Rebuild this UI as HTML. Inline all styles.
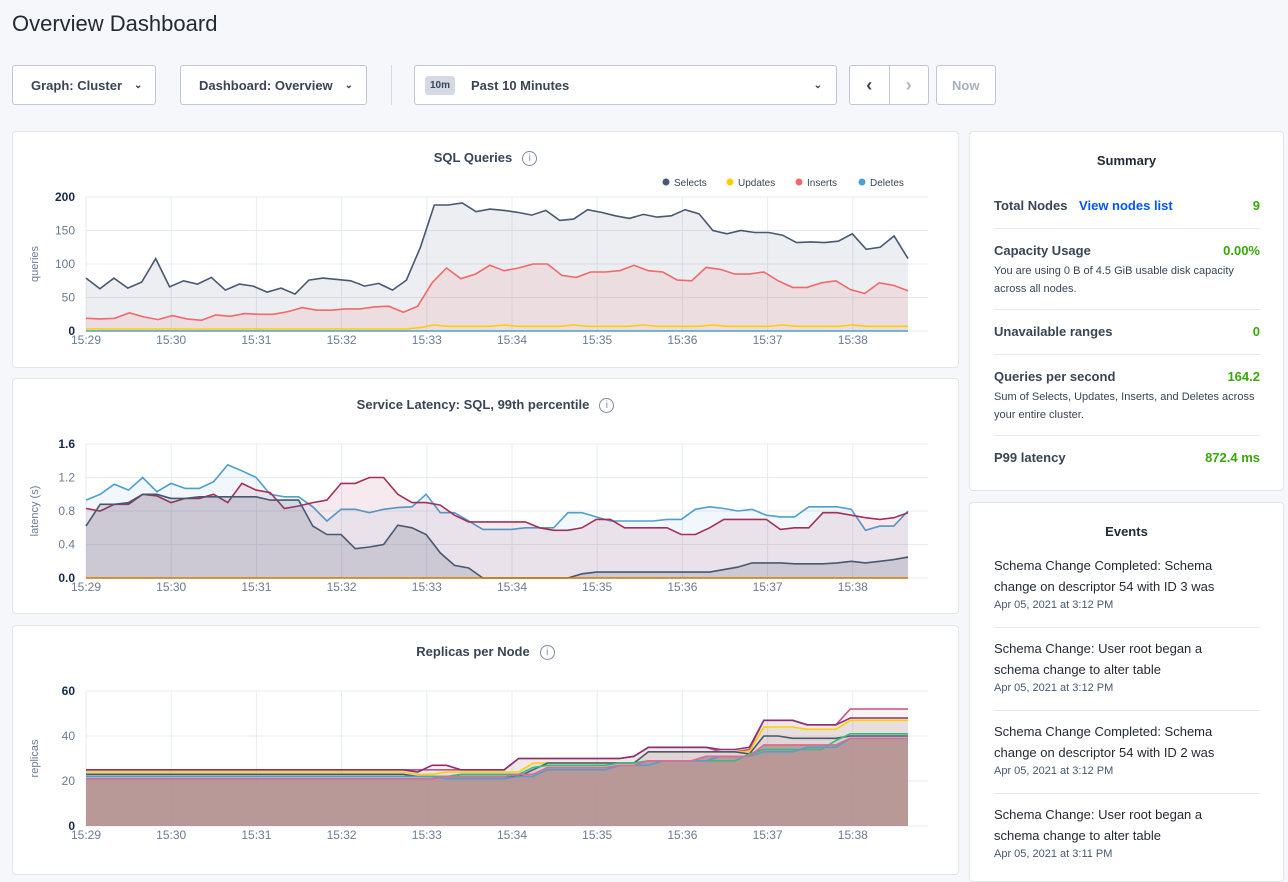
<!DOCTYPE html>
<html><head><meta charset="utf-8">
<style>
*{box-sizing:border-box}
body{margin:0;width:1288px;height:868px;overflow:hidden;background:#f5f7fa;font-family:"Liberation Sans",sans-serif;color:#242a35;position:relative}
.abs{position:absolute}
h1{position:absolute;left:12px;top:11px;margin:0;font-size:22px;font-weight:400;color:#242a35}
.btn{position:absolute;top:65px;height:40px;background:#fff;border:1px solid #c0c6d9;border-radius:3px;font-size:13px;font-weight:bold;color:#394455;display:flex;align-items:center;padding-left:18px}
.card{position:absolute;background:#fff;border:1px solid #e2e5ea;border-radius:4px}
.ct{position:absolute;width:100%;text-align:center;font-size:13px;font-weight:bold;color:#394455}
.info{display:inline-block;width:15px;height:15px;border:1px solid #7e89a9;border-radius:50%;font-size:10px;line-height:13px;text-align:center;color:#7e89a9;font-weight:normal;margin-left:10px;vertical-align:middle}
.row{position:absolute;left:24px;width:266px;font-size:13px;font-weight:bold;color:#394455}
.row .v{position:absolute;right:0;top:0;color:#37a806}
.row .d{font-weight:normal;font-size:11px;line-height:18px;margin-top:4px;color:#394455;width:275px}
.hr{position:absolute;left:24px;width:266px;border-top:1px solid #e7eaef}
.ev{position:absolute;left:24px;width:232px;font-size:13px;line-height:21px;color:#242a35}
.ev small{display:block;font-size:11px;color:#475872;line-height:16px}
svg text{font-family:"Liberation Sans",sans-serif}
</style></head><body>
<h1>Overview Dashboard</h1>
<div class="btn" style="left:12px;width:144px">Graph: Cluster <span style="margin-left:12px;font-size:10px">&#8964;</span></div>
<div class="btn" style="left:180px;width:187px">Dashboard: Overview <span style="margin-left:12px;font-size:10px">&#8964;</span></div>
<div class="abs" style="left:391px;top:65px;width:1px;height:40px;background:#d5d9e0"></div>
<div class="btn" style="left:414px;width:423px;padding-left:10px"><span style="background:#d5d9e3;border-radius:3px;font-size:10px;padding:4px 5px;margin-right:16px">10m</span>Past 10 Minutes<span style="position:absolute;right:14px;font-size:10px">&#8964;</span></div>
<div class="btn" style="left:849px;width:80px;padding:0"><span style="width:39px;text-align:center;font-size:18px">&#8249;</span><span style="width:1px;height:38px;background:#c0c6d9"></span><span style="width:39px;text-align:center;font-size:18px;color:#b0b6c4">&#8250;</span></div>
<div class="btn" style="left:936px;width:60px;padding-left:15px;color:#a8b0c0">Now</div>

<div class="card" style="left:12px;top:131px;width:947px;height:237px"><div class="ct" style="top:18px">SQL Queries<span class="info">i</span></div></div>
<div class="card" style="left:12px;top:378px;width:947px;height:236px"><div class="ct" style="top:18px">Service Latency: SQL, 99th percentile<span class="info">i</span></div></div>
<div class="card" style="left:12px;top:625px;width:947px;height:250px"><div class="ct" style="top:18px">Replicas per Node<span class="info">i</span></div></div>

<svg id="s" class="abs" style="left:0;top:0" width="960" height="868"></svg>

<div class="card" style="left:969px;top:131px;width:315px;height:360px">
<div class="ct" style="top:21px;color:#242a35">Summary</div>
<div class="row" style="top:66px">Total Nodes <span style="color:#0055ff;margin-left:8px">View nodes list</span><span class="v">9</span></div>
<div class="hr" style="top:96px"></div>
<div class="row" style="top:111px">Capacity Usage<span class="v">0.00%</span><div class="d">You are using 0 B of 4.5 GiB usable disk capacity across all nodes.</div></div>
<div class="hr" style="top:177px"></div>
<div class="row" style="top:192px">Unavailable ranges<span class="v">0</span></div>
<div class="hr" style="top:222px"></div>
<div class="row" style="top:237px">Queries per second<span class="v">164.2</span><div class="d">Sum of Selects, Updates, Inserts, and Deletes across your entire cluster.</div></div>
<div class="hr" style="top:303px"></div>
<div class="row" style="top:318px">P99 latency<span class="v">872.4 ms</span></div>
</div>

<div class="card" style="left:969px;top:502px;width:315px;height:380px">
<div class="ct" style="top:21px;color:#242a35">Events</div>
<div class="ev" style="top:52px">Schema Change Completed: Schema change on descriptor 54 with ID 3 was<small>Apr 05, 2021 at 3:12 PM</small></div>
<div class="hr" style="top:124px"></div>
<div class="ev" style="top:135px">Schema Change: User root began a schema change to alter table<small>Apr 05, 2021 at 3:12 PM</small></div>
<div class="hr" style="top:207px"></div>
<div class="ev" style="top:218px">Schema Change Completed: Schema change on descriptor 54 with ID 2 was<small>Apr 05, 2021 at 3:12 PM</small></div>
<div class="hr" style="top:290px"></div>
<div class="ev" style="top:301px">Schema Change: User root began a schema change to alter table<small>Apr 05, 2021 at 3:11 PM</small></div>
</div>

<script>
var S=document.getElementById('s'),h='';
var X0=86,X1=908;
function axis(y0,y1,ticks,labels,ylab){
  var n=ticks.length-1;
  for(var i=0;i<=n;i++){var y=y1-(y1-y0)*i/n;
    h+='<line x1="'+X0+'" x2="928" y1="'+y+'" y2="'+y+'" stroke="#e7ebf1"/>';
    var b=(i==0||i==n);
    h+='<text x="75" y="'+(y+4)+'" text-anchor="end" font-size="12" font-weight="'+(b?'bold':'normal')+'" fill="'+(b?'#152849':'#6b7a95')+'">'+labels[i]+'</text>';}
  var t=['15:29','15:30','15:31','15:32','15:33','15:34','15:35','15:36','15:37','15:38'];
  for(var k=0;k<10;k++){var x=X0+k*85.2;
    h+='<line x1="'+x+'" x2="'+x+'" y1="'+y0+'" y2="'+y1+'" stroke="#e7ebf1"/>';
    h+='<text x="'+x+'" y="'+(y1+13)+'" text-anchor="middle" font-size="12" fill="#6b7a95">'+t[k]+'</text>';}
  h+='<text transform="translate(38,'+((y0+y1)/2)+') rotate(-90)" text-anchor="middle" font-size="11" fill="#6b7a95">'+ylab+'</text>';
}
function ser(d,y0,y1,max,col,fill,op){
  var pts=[],n=d.length;
  for(var i=0;i<n;i++){pts.push((X0+(X1-X0)*i/(n-1)).toFixed(1)+','+(y1-(y1-y0)*d[i]/max).toFixed(1));}
  if(fill)h+='<polygon points="'+X0+','+y1+' '+pts.join(' ')+' '+X1+','+y1+'" fill="'+fill+'" fill-opacity="'+op+'"/>';
  h+='<polyline points="'+pts.join(' ')+'" fill="none" stroke="'+col+'" stroke-width="1.6"/>';
}
axis(197,331,[0,1,2,3,4],['0','50','100','150','200'],'queries');
var sel=[79,63,79,64,73,108,66,75,70,80,61,70,67,58,64,55,76,79,77,75,67,71,61,76,125,188,188,191,178,182,180,177,173,180,165,167,181,177,172,168,174,170,172,181,175,150,145,150,147,147,143,132,133,132,134,145,122,125,142,108];
var ins=[19,18,19,27,21,17,23,18,16,24,22,26,25,25,29,35,31,31,33,33,36,37,28,37,72,94,78,85,98,90,94,100,100,83,80,88,88,90,98,90,88,76,75,95,92,85,85,88,75,65,65,72,75,62,56,72,68,60];
var upd=sel.map(function(v,i){return i<24?3:(i<25?5:7+ (i%5==0?2:0));});
ser(sel,197,331,200,'#475872','#475872',0.1);
ser(ins,197,331,200,'#f16969','#f16969',0.12);
ser(upd,197,331,200,'#ffcd02',null,0);
ser(sel.map(function(){return 0}),197,331,200,'#4e9fd1',null,0);
var lg=[['Selects','#475872',663],['Updates','#ffcd02',727],['Inserts','#f16969',796],['Deletes','#4e9fd1',859]];
lg.forEach(function(l){h+='<circle cx="'+(l[2]+3)+'" cy="182" r="3.5" fill="'+l[1]+'"/><text x="'+(l[2]+11)+'" y="186" font-size="10" fill="#394455">'+l[0]+'</text>';});
axis(444,578,[0,1,2,3,4],['0.0','0.4','0.8','1.2','1.6'],'latency (s)');
var blu=[0.93,1.0,1.12,1.05,1.2,1.03,1.13,1.07,1.07,1.15,1.35,1.28,1.2,1.0,0.97,0.97,0.85,0.68,0.82,0.82,0.78,0.82,0.84,0.85,1.0,0.78,0.78,0.68,0.58,0.58,0.58,0.6,0.6,0.6,0.78,0.78,0.73,0.68,0.68,0.68,0.68,0.7,0.7,0.82,0.85,0.83,0.8,0.82,0.75,0.73,0.73,0.85,0.85,0.85,0.82,0.57,0.62,0.62,0.8];
var red=[0.83,0.8,0.88,0.88,1.0,0.98,0.9,0.95,0.95,1.0,0.9,1.13,1.05,1.02,0.83,0.86,0.9,0.93,1.13,1.13,1.2,1.2,1.0,0.9,0.9,0.87,0.75,0.67,0.67,0.67,0.67,0.67,0.6,0.57,0.57,0.6,0.7,0.7,0.6,0.6,0.6,0.6,0.52,0.52,0.6,0.7,0.7,0.7,0.7,0.58,0.6,0.6,0.78,0.78,0.75,0.72,0.7,0.72,0.78];
var drk=[0.62,0.88,0.88,0.9,1.0,1.0,0.95,0.95,0.97,0.97,0.97,0.97,0.97,0.93,0.93,0.93,0.62,0.52,0.52,0.35,0.37,0.4,0.63,0.6,0.52,0.3,0.15,0.12,0,0,0,0,0,0,0,0.05,0.07,0.07,0.07,0.07,0.07,0.07,0.07,0.07,0.07,0.1,0.13,0.18,0.18,0.18,0.17,0.17,0.17,0.18,0.2,0.18,0.2,0.22,0.25];
ser(blu,444,578,1.6,'#4e9fd1','#4e9fd1',0.08);
ser(red,444,578,1.6,'#a33057','#a33057',0.1);
ser(drk,444,578,1.6,'#475872','#475872',0.18);
h+='<line x1="86" x2="908" y1="578" y2="578" stroke="#ce7a00" stroke-width="1.5"/>';
axis(691,826,[0,1,2,3],['0','20','40','60'],'replicas');
var N=58;
function rep(base,steps){var a=[];for(var i=0;i<N;i++){var v=base;steps.forEach(function(s){if(i>=s[0]-1)v=s[1];});a.push(v);}return a;}
var cols=['#ce7a00','#d66d9c','#4e9fd1','#2dbf7e','#475872','#ffcd02','#8b2f6f','#c7508a'];
var st=[
 [[24,21],[26,22],[31,23],[33,26],[38,27],[40,29],[44,31],[47,31],[48,36],[54,39]],
 [[24,22],[26,21],[31,22],[33,25],[38,27],[41,29],[45,31],[48,33],[51,35],[54,39]],
 [[24,22],[27,23],[32,26],[33,27],[38,28],[40,29],[47,32],[48,34],[53,38],[54,41]],
 [[24,22],[27,22],[32,25],[33,28],[39,28],[40,33],[47,32],[48,40],[50,39],[54,40]],
 [[24,23],[26,24],[32,28],[33,28],[38,28],[40,33],[47,33],[48,44],[51,43],[54,47]],
 [[24,24],[25,27],[27,25],[31,30],[33,30],[39,31],[40,35],[45,34],[47,35],[48,47],[51,45],[54,48]],
 [[24,25],[27,25],[31,30],[33,30],[39,31],[40,35],[45,33],[47,34],[48,47],[51,45],[54,52]]];
var bases=[21,22,22,23,24,25,25];
ser(rep(21,st[0]),691,826,60,'#ce7a00','#b5958f',0.75);
for(var j=st.length-1;j>=0;j--){ser(rep(bases[j],st[j]),691,826,60,cols[j+1],'#b08d86',0.1);}
S.innerHTML=h;
</script>
</body></html>
